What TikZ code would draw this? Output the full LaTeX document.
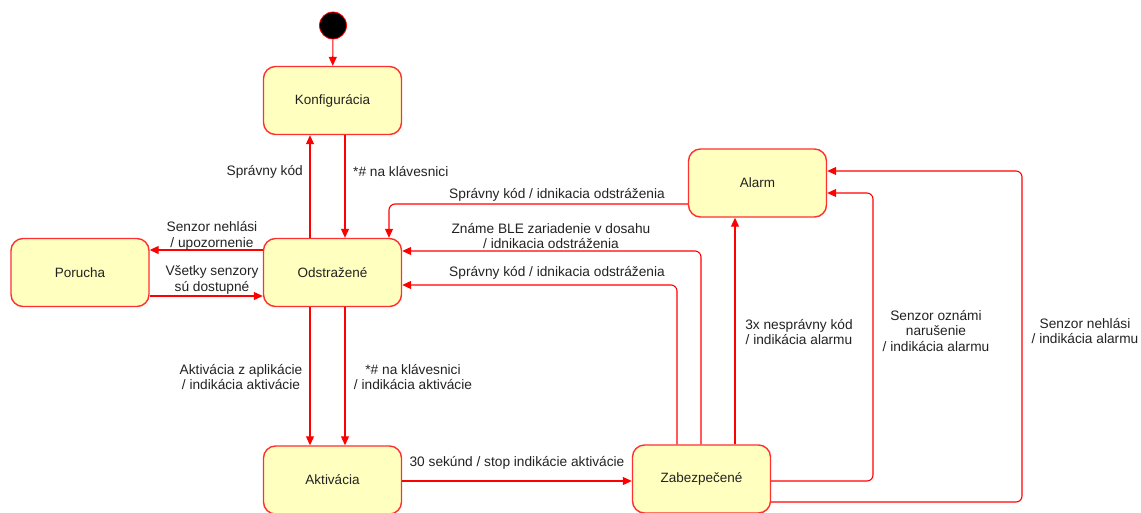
\documentclass[tikz,border=0pt]{standalone}
\usepackage{fontspec}
\setmainfont{Liberation Sans}
\usetikzlibrary{arrows.meta,calc}
\definecolor{stfill}{HTML}{FFFFC0}
\definecolor{stline}{HTML}{FF3030}
\definecolor{txt}{HTML}{222222}
\begin{document}
\begin{tikzpicture}[x=1pt,y=-1pt,
  state/.style={draw=stline, line width=1.4pt, fill=stfill, rounded corners=12pt,
    minimum width=138pt, minimum height=68pt, inner sep=0pt,
    font=\fontsize{13.5}{15}\selectfont, text=txt},
  tr/.style={draw=red, line width=1.1pt, rounded corners=6pt,
    -{Triangle[length=9pt,width=8pt]}},
  lbl/.style={font=\fontsize{13.7}{15.8}\selectfont, align=center, inner sep=0pt, text=txt}]
\useasboundingbox (0,0) rectangle (1141,512);

% states
\node[circle, fill=black, draw=red, line width=0.8pt, minimum size=27pt, inner sep=0pt] (init) at (333,25.5) {};
\node[state] (konf)  at (332.5,100.5) {Konfigurácia};
\node[state] (odst)  at (332.5,272.5) {Odstražené};
\node[state] (por)   at (80,272.5)    {Porucha};
\node[state] (alarm) at (757.5,183)   {Alarm};
\node[state] (akt)   at (332.5,480)   {Aktivácia};
\node[state] (zab)   at (701.5,479)   {Zabezpečené};

% transitions
\draw[tr] (init) -- (konf);
\draw[tr] (odst.north -| 310,0) -- (konf.south -| 310,0);
\draw[tr] (konf.south -| 345,0) -- (odst.north -| 345,0);
\draw[tr] (odst.west |- 0,250) -- (por.east |- 0,250);
\draw[tr] (por.east |- 0,296) -- (odst.west |- 0,296);
\draw[tr] (alarm.west |- 0,204) -- (389,204) -- (odst.north -| 389,0);
\draw[tr] (zab.north -| 701,0) -- (701,251) -- (odst.east |- 0,251);
\draw[tr] (zab.north -| 677,0) -- (677,285) -- (odst.east |- 0,285);
\draw[tr] (zab.north -| 735,0) -- (alarm.south -| 735,0);
\draw[tr] (zab.east |- 0,481) -- (873,481) -- (873,193) -- (alarm.east |- 0,193);
\draw[tr] (zab.east |- 0,502) -- (1022,502) -- (1022,171) -- (alarm.east |- 0,171);
\draw[tr] (odst.south -| 310,0) -- (akt.north -| 310,0);
\draw[tr] (odst.south -| 345,0) -- (akt.north -| 345,0);
\draw[tr] (akt.east |- 0,481) -- (zab.west |- 0,481);

% labels
\node[lbl, anchor=east] (l1) at (303,172) {Správny kód};
\node[lbl, anchor=west] (l2) at (353,172) {*\# na klávesnici};
\node[lbl] (l3) at (212,236) {Senzor nehlási\\/ upozornenie};
\node[lbl] (l4) at (212,280) {Všetky senzory\\sú dostupné};
\node[lbl] (l5) at (557,195) {Správny kód / idnikacia odstráženia};
\node[lbl] (l6) at (551,236) {Známe BLE zariadenie v dosahu\\/ idnikacia odstráženia};
\node[lbl] (l7) at (557,273) {Správny kód / idnikacia odstráženia};
\node[lbl] (l8) at (241,377) {Aktivácia z aplikácie\\/ indikácia aktivácie};
\node[lbl] (l9) at (413,377) {*\# na klávesnici\\/ indikácia aktivácie};
\node[lbl] (l10) at (517,463) {30 sekúnd / stop indikácie aktivácie};
\node[lbl] (l11) at (799,332) {3x nesprávny kód\\/ indikácia alarmu};
\node[lbl] (l12) at (936,331) {Senzor oznámi\\narušenie\\/ indikácia alarmu};
\node[lbl] (l13) at (1085,331) {Senzor nehlási\\/ indikácia alarmu};
\end{tikzpicture}
\end{document}
